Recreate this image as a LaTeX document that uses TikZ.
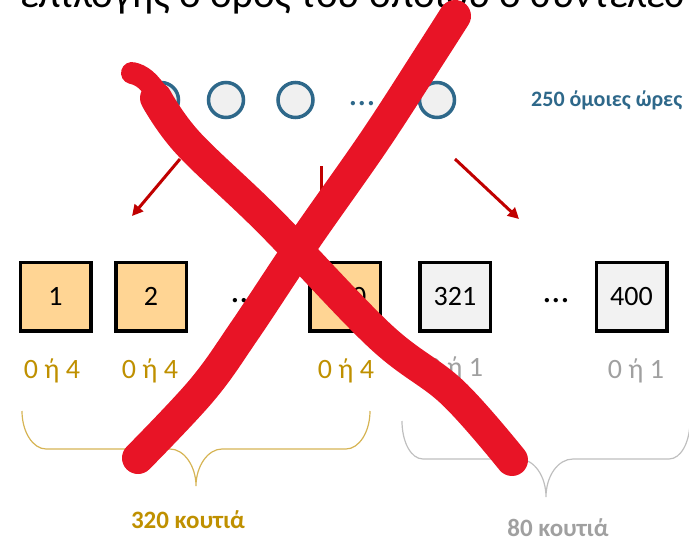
\documentclass[tikz,border=0pt]{standalone}
\usepackage{fontspec}
\setmainfont{Carlito}
\usetikzlibrary{arrows.meta}
\definecolor{hourblue}{RGB}{46,104,138}
\definecolor{hourfill}{RGB}{240,240,240}
\definecolor{boxorange}{RGB}{255,213,148}
\definecolor{boxgray}{RGB}{242,242,242}
\definecolor{goldtxt}{RGB}{191,144,0}
\definecolor{goldbrace}{RGB}{214,180,84}
\definecolor{graytxt}{RGB}{160,160,160}
\definecolor{graybrace}{RGB}{191,191,191}
\definecolor{arrred}{RGB}{192,0,0}
\definecolor{xred}{RGB}{232,20,38}
\tikzset{
  hour/.style={circle, draw=hourblue, fill=hourfill, line width=3.5pt, minimum size=35pt, inner sep=0pt},
  binA/.style={draw=black, line width=3.5pt, fill=boxorange, minimum width=70.5pt, minimum height=68.5pt, inner sep=0pt, font=\fontsize{28}{28}\selectfont},
  binB/.style={binA, fill=boxgray},
  labA/.style={anchor=base, text=goldtxt, font=\fontsize{28}{28}\selectfont, inner sep=0pt},
  labB/.style={anchor=base, text=graytxt, font=\fontsize{28}{28}\selectfont, inner sep=0pt},
  dots/.style={anchor=base, inner sep=0pt, font=\fontsize{36}{36}\selectfont},
  arr/.style={draw=arrred, line width=3pt, -{Triangle[length=11pt,width=11pt]}},
  bracegold/.style={draw=goldbrace, line width=1.2pt},
  bracegray/.style={draw=graybrace, line width=1.2pt},
  xstroke/.style={draw=xred, line width=32pt, line cap=round, line join=round}
}
\begin{document}
\begin{tikzpicture}[x=1pt,y=-1pt]
\useasboundingbox (0,0) rectangle (689,541);
% heading (clipped at top)
\node[anchor=base west, inner sep=0pt, font=\fontsize{41}{41}\selectfont] (title) at (20,7) {επιλογής ο όρος του οποίου ο συντελεστής};
% hours
\node[hour] (h1) at (161,100) {};
\node[hour] (h2) at (226,100) {};
\node[hour] (h3) at (295.5,100) {};
\node[dots, text=hourblue] (hd) at (362,105) {…};
\node[hour] (h4) at (437,100) {};
\node[anchor=base west, text=hourblue, font=\bfseries\fontsize{22}{22}\selectfont, inner sep=0pt] (hlab) at (531,106) {250 όμοιες ώρες};
% arrows
\coordinate (a1s) at (180,159); \coordinate (a1e) at (132,216);
\coordinate (a2s) at (321,166); \coordinate (a2e) at (321,214);
\coordinate (a3s) at (455,159); \coordinate (a3e) at (519,219);
\draw[arr] (a1s) -- (a1e);
\draw[arr] (a2s) -- (a2e);
\draw[arr] (a3s) -- (a3e);
% bins
\node[binA] (b1) at (55.5,296.5) {1};
\node[binA] (b2) at (151,296.5) {2};
\node[dots] (bd1) at (244,302) {…};
\node[binA] (b3) at (345,296.5) {320};
\node[binB] (b4) at (455,296.5) {321};
\node[dots] (bd2) at (556,302) {…};
\node[binB] (b5) at (631.5,296.5) {400};
% labels
\node[labA] (l1) at (52,378) {0 ή 4};
\node[labA] (l2) at (150,378) {0 ή 4};
\node[labA] (l3) at (346,378) {0 ή 4};
\node[labB] (l4) at (455,376) {0 ή 1};
\node[labB] (l5) at (636,378) {0 ή 1};
% braces
\draw[bracegold] (22,411) .. controls (22,432) and (33,449) .. (46,449) -- (170,449)
  .. controls (184,449) and (196,466) .. (196,486)
  .. controls (196,466) and (208,449) .. (222,449) -- (346,449)
  .. controls (359,449) and (370,432) .. (370,411);
\draw[bracegray] (402,421) .. controls (402,442) and (411,459) .. (423,459) -- (519,459)
  .. controls (534,459) and (546,476) .. (546,497)
  .. controls (546,476) and (558,459) .. (573,459) -- (669,459)
  .. controls (681,459) and (690,442) .. (690,421);
\node[anchor=base, text=goldtxt, font=\bfseries\fontsize{25}{25}\selectfont, inner sep=0pt] (c1) at (188,528) {320 κουτιά};
\node[anchor=base, text=graytxt, font=\bfseries\fontsize{25}{25}\selectfont, inner sep=0pt] (c2) at (558,536) {80 κουτιά};
% red X
\draw[xstroke, line width=22pt] (132,73) .. controls (142,75) and (150,82) .. (158,95);
\draw[xstroke] plot[smooth, tension=0.6] coordinates {(156,98) (188,143) (270,222) (380,336) (452,392) (512,460)};
\draw[xstroke] plot[smooth, tension=0.6] coordinates {(455,16) (432,52) (375,140) (305,240) (245,330) (202,390) (138,458)};
\end{tikzpicture}
\end{document}
